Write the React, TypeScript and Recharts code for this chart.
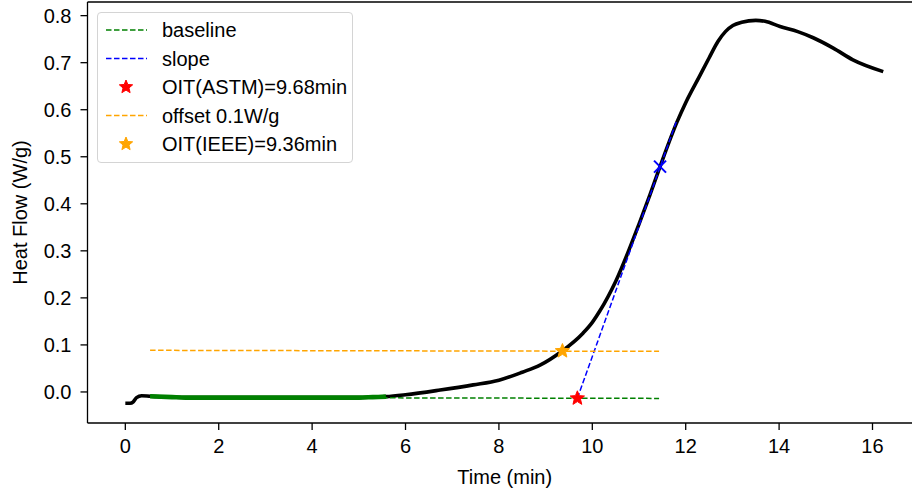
import React from 'react';
import { ComposedChart, Line, Scatter, XAxis, YAxis, Legend, ReferenceLine } from 'recharts';

// ---- Data ----
const timeMin = [0, 0.1, 0.17, 0.24, 0.35, 0.53, 1.0, 1.3, 2.0, 3.0, 4.0, 5.0, 5.3, 5.58, 6.0, 6.74, 7.45, 8.0, 8.5, 8.88, 9.34, 9.8, 10.0, 10.16, 10.5, 11.0, 11.23, 11.45, 11.81, 12.0, 12.3, 12.5, 12.69, 12.85, 13.01, 13.2, 13.5, 13.7, 14.02, 14.4, 14.73, 15.16, 15.58, 16.23];
const heatFlow = [-0.024, -0.024, -0.021, -0.012, -0.008, -0.009, -0.011, -0.012, -0.012, -0.012, -0.012, -0.012, -0.011, -0.010, -0.006, 0.004, 0.015, 0.025, 0.042, 0.057, 0.086, 0.125, 0.148, 0.172, 0.235, 0.357, 0.418, 0.479, 0.573, 0.615, 0.672, 0.71, 0.745, 0.766, 0.779, 0.786, 0.79, 0.788, 0.777, 0.766, 0.753, 0.731, 0.706, 0.681];

const baselineFitStart = 0.53;
const baselineFitEnd = 5.58;

const baselineX = [0.53, 11.43];
const baselineY = [-0.0115, -0.0137];
const offsetY = [0.0885, 0.0863];
const slopeX = [9.68, 11.8];
const slopeY = [-0.0135, 0.575];

const oitAstm = [{ x: 9.68, y: -0.0135 }];
const oitIeee = [{ x: 9.36, y: 0.087 }];
const inflection = [{ x: 11.45, y: 0.479 }];

const xDomain = [-0.81, 17.06];
const yDomain = [-0.066, 0.829];
const xTicks = [0, 2, 4, 6, 8, 10, 12, 14, 16];
const yTicks = [0, 0.1, 0.2, 0.3, 0.4, 0.5, 0.6, 0.7, 0.8];

const legendItems = [
  { label: 'baseline', kind: 'line', color: '#008000' },
  { label: 'slope', kind: 'line', color: '#0000ff' },
  { label: 'OIT(ASTM)=9.68min', kind: 'star', color: '#ff0000' },
  { label: 'offset 0.1W/g', kind: 'line', color: '#ffa500' },
  { label: 'OIT(IEEE)=9.36min', kind: 'star', color: '#ffa500' },
];

// ---- Derived tables ----
const curve = timeMin.map((x, i) => ({ x, y: heatFlow[i] }));
const fitSegment = curve.filter((d) => d.x >= baselineFitStart && d.x <= baselineFitEnd);
const baseline = baselineX.map((x, i) => ({ x, y: baselineY[i] }));
const offsetLine = baselineX.map((x, i) => ({ x, y: offsetY[i] }));
const slopeLine = slopeX.map((x, i) => ({ x, y: slopeY[i] }));

const FONT = '"Liberation Sans", Arial, Helvetica, sans-serif';

function starPoints(cx: number, cy: number, R: number, r: number) {
  const pts: string[] = [];
  for (let i = 0; i < 10; i++) {
    const rad = i % 2 === 0 ? R : r;
    const a = -Math.PI / 2 + (i * Math.PI) / 5;
    pts.push(`${cx + rad * Math.cos(a)},${cy + rad * Math.sin(a)}`);
  }
  return pts.join(' ');
}

const makeStar = (color: string) => (props: any) => {
  const { cx, cy } = props;
  if (cx == null || cy == null) return <g />;
  return <polygon points={starPoints(cx, cy, 7.5, 3.3)} fill={color} stroke={color} strokeWidth={1} />;
};

const XMarker = (props: any) => {
  const { cx, cy } = props;
  if (cx == null || cy == null) return <g />;
  const s = 6;
  return (
    <g stroke="#0000ff" strokeWidth={2}>
      <line x1={cx - s} y1={cy - s} x2={cx + s} y2={cy + s} />
      <line x1={cx - s} y1={cy + s} x2={cx + s} y2={cy - s} />
    </g>
  );
};

const LegendBox = () => {
  const rowH = 28.5;
  const top0 = 17;
  return (
    <div
      style={{
        width: 254,
        height: 149,
        border: '1px solid #d4d4d4',
        borderRadius: 4,
        background: 'rgba(255,255,255,0.8)',
        boxSizing: 'content-box',
      }}
    >
      <svg width={254} height={149} style={{ display: 'block' }}>
        {legendItems.map((it, i) => {
          const cy = top0 + i * rowH;
          return (
            <g key={it.label}>
              {it.kind === 'line' ? (
                <line x1={8} y1={cy} x2={49} y2={cy} stroke={it.color} strokeWidth={1.5} strokeDasharray="5.5 2.5" />
              ) : (
                <polygon points={starPoints(28, cy, 7, 3.1)} fill={it.color} stroke={it.color} strokeWidth={1} />
              )}
              <text x={64} y={cy + 7} fontSize={20} fontFamily={FONT} fill="#000">
                {it.label}
              </text>
            </g>
          );
        })}
      </svg>
    </div>
  );
};

export default function App() {
  return (
    <div style={{ position: 'absolute', left: 0, top: 0, width: 912, height: 490, overflow: 'hidden', background: '#fff' }}>
      <ComposedChart
        width={923}
        height={490}
        margin={{ top: 2, right: 1, bottom: 0, left: 0 }}
        style={{ fontFamily: FONT }}
      >
        <XAxis
          dataKey="x"
          type="number"
          domain={xDomain}
          ticks={xTicks}
          interval={0}
          allowDataOverflow
          height={67}
          tickSize={7}
          tickMargin={9}
          axisLine={{ stroke: '#000', strokeWidth: 1.3 }}
          tickLine={{ stroke: '#000', strokeWidth: 1.3 }}
          tick={{ fill: '#000', fontSize: 20, fontFamily: FONT }}
          label={{ value: 'Time (min)', position: 'insideBottom', offset: 6, fill: '#000', fontSize: 20, fontFamily: FONT }}
        />
        <YAxis
          dataKey="y"
          type="number"
          domain={yDomain}
          ticks={yTicks}
          interval={0}
          allowDataOverflow
          width={87.5}
          tickSize={7}
          tickMargin={9}
          tickFormatter={(v: number) => v.toFixed(1)}
          axisLine={{ stroke: '#000', strokeWidth: 1.3 }}
          tickLine={{ stroke: '#000', strokeWidth: 1.3 }}
          tick={{ fill: '#000', fontSize: 20, fontFamily: FONT }}
          label={{
            value: 'Heat Flow (W/g)',
            angle: -90,
            position: 'insideLeft',
            offset: 20,
            fill: '#000',
            fontSize: 20,
            fontFamily: FONT,
            style: { textAnchor: 'middle' },
          }}
        />
        <ReferenceLine y={yDomain[1]} stroke="#000" strokeWidth={1.3} ifOverflow="visible" />
        <Legend
          layout="vertical"
          align="center"
          verticalAlign="middle"
          content={() => <LegendBox />}
          wrapperStyle={{ left: 97, top: 12, width: 256, height: 151 }}
        />
        <Line data={curve} dataKey="y" type="monotone" stroke="#000" strokeWidth={3.6} dot={false} activeDot={false} isAnimationActive={false} legendType="none" />
        <Line data={fitSegment} dataKey="y" type="monotone" stroke="#008000" strokeWidth={4.6} dot={false} activeDot={false} isAnimationActive={false} legendType="none" />
        <Line data={baseline} dataKey="y" type="linear" stroke="#008000" strokeWidth={1.5} strokeDasharray="5.5 2.5" dot={false} activeDot={false} isAnimationActive={false} legendType="none" />
        <Line data={slopeLine} dataKey="y" type="linear" stroke="#0000ff" strokeWidth={1.5} strokeDasharray="5.5 2.5" dot={false} activeDot={false} isAnimationActive={false} legendType="none" />
        <Line data={offsetLine} dataKey="y" type="linear" stroke="#ffa500" strokeWidth={1.5} strokeDasharray="5.5 2.5" dot={false} activeDot={false} isAnimationActive={false} legendType="none" />
        <Scatter data={oitAstm} dataKey="y" shape={makeStar('#ff0000')} isAnimationActive={false} legendType="none" />
        <Scatter data={oitIeee} dataKey="y" shape={makeStar('#ffa500')} isAnimationActive={false} legendType="none" />
        <Scatter data={inflection} dataKey="y" shape={XMarker} isAnimationActive={false} legendType="none" />
      </ComposedChart>
    </div>
  );
}
